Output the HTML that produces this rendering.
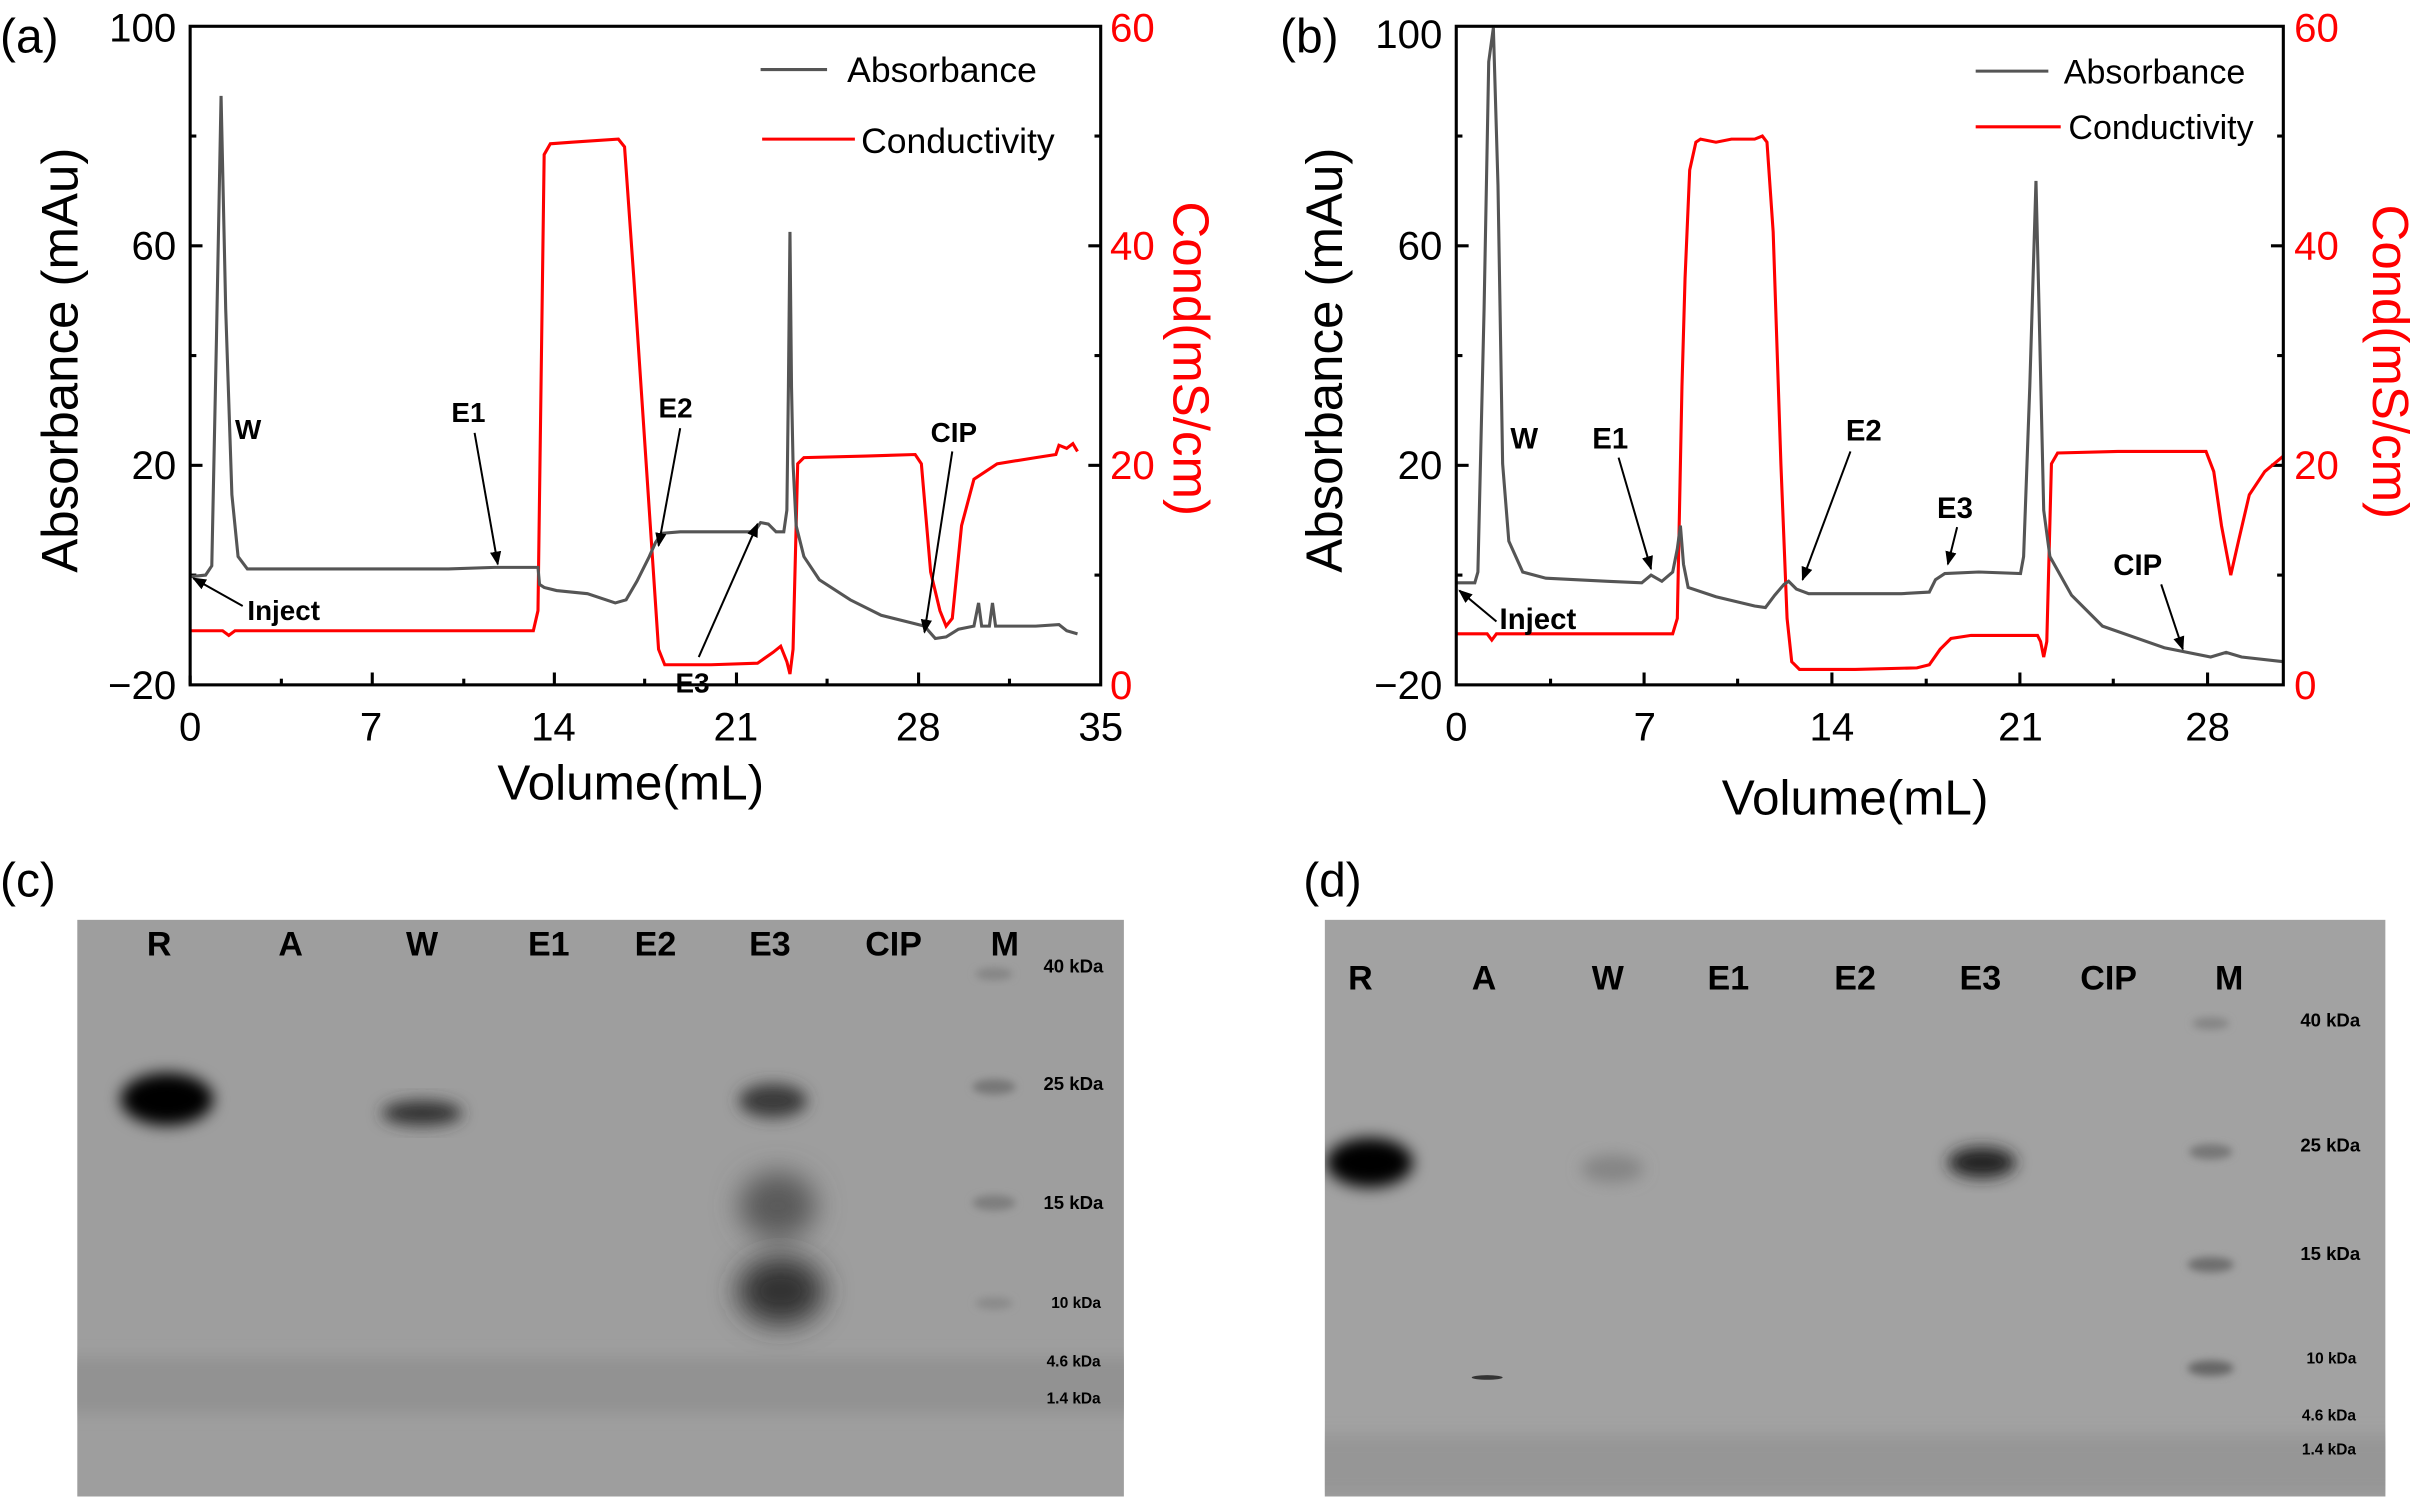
<!DOCTYPE html>
<html><head><style>
html,body{margin:0;padding:0;background:#fff;}
svg{display:block;}
text{font-family:"Liberation Sans",sans-serif;}
</style></head><body>
<svg width="2424" height="1505" viewBox="0 0 1568 973.5" preserveAspectRatio="none" xmlns="http://www.w3.org/2000/svg">
<defs>
<filter id="b4" x="-50%" y="-50%" width="200%" height="200%"><feGaussianBlur stdDeviation="5"/></filter>
<filter id="b8" x="-50%" y="-50%" width="200%" height="200%"><feGaussianBlur stdDeviation="9"/></filter>
<filter id="b2" x="-50%" y="-50%" width="200%" height="200%"><feGaussianBlur stdDeviation="2.5"/></filter>
<clipPath id="gc"><rect x="50" y="595" width="677" height="373"/></clipPath>
<clipPath id="gd"><rect x="857" y="595" width="686" height="373"/></clipPath>
<marker id="ar" viewBox="0 0 10 10" refX="9" refY="5" markerWidth="7" markerHeight="7" orient="auto"><path d="M0,1 L10,5 L0,9 z" fill="#000"/></marker>
</defs>

<!-- ===== Panel (a) ===== -->
<text x="0" y="34" font-size="31">(a)</text>
<g font-size="26" text-anchor="end">
<text x="114" y="27">100</text><text x="114" y="168">60</text><text x="114" y="310">20</text><text x="114" y="452">−20</text>
</g>
<g font-size="26" fill="#f00">
<text x="718" y="27">60</text><text x="718" y="168">40</text><text x="718" y="310">20</text><text x="718" y="452">0</text>
</g>
<g font-size="26" text-anchor="middle">
<text x="123" y="479">0</text><text x="240" y="479">7</text><text x="358" y="479">14</text><text x="476" y="479">21</text><text x="594" y="479">28</text><text x="712" y="479">35</text>
</g>
<text x="408" y="517" font-size="32" text-anchor="middle">Volume(mL)</text>
<text transform="translate(50,233) rotate(-90)" font-size="33" text-anchor="middle">Absorbance (mAu)</text>
<text transform="translate(759,232) rotate(90)" font-size="33" text-anchor="middle" fill="#f00">Cond(mS/cm)</text>
<g stroke="#000" stroke-width="2">
<line x1="123" y1="443" x2="123" y2="437"/><line x1="240.8" y1="443" x2="240.8" y2="435"/><line x1="358.6" y1="443" x2="358.6" y2="435"/><line x1="476.4" y1="443" x2="476.4" y2="435"/><line x1="594.2" y1="443" x2="594.2" y2="435"/>
<line x1="182" y1="443" x2="182" y2="439"/><line x1="300" y1="443" x2="300" y2="439"/><line x1="417" y1="443" x2="417" y2="439"/><line x1="535" y1="443" x2="535" y2="439"/><line x1="653" y1="443" x2="653" y2="439"/>
<line x1="123" y1="159" x2="131" y2="159"/><line x1="123" y1="301" x2="131" y2="301"/><line x1="123" y1="88" x2="127" y2="88"/><line x1="123" y1="230" x2="127" y2="230"/><line x1="123" y1="372" x2="127" y2="372"/>
<line x1="712" y1="159" x2="704" y2="159"/><line x1="712" y1="301" x2="704" y2="301"/><line x1="712" y1="88" x2="708" y2="88"/><line x1="712" y1="230" x2="708" y2="230"/><line x1="712" y1="372" x2="708" y2="372"/>
</g>
<polyline fill="none" stroke="#f00" stroke-width="2" points="123,408 144,408 148,411 152,408 345,408 348,395 352,100 356,93 370,92 400,90 404,95 410,180 420,330 426,420 430,430 460,430 490,429 500,422 505,418 509,428 511,436 513,420 516,300 520,296 560,295 592,294 596,300 602,370 608,395 612,405 616,400 622,340 630,310 645,300 670,296 683,294 685,288 690,290 694,287 697,292"/>
<polyline fill="none" stroke="#555" stroke-width="2" points="123,373 133,372 137,366 140,220 143,62 146,200 150,320 154,360 160,368 200,368 290,368 320,367 348,367 349,378 352,380 360,382 380,384 398,390 405,388 412,376 420,360 424,351 428,345 440,344 488,344 492,338 497,339 502,344 507,344 509,330 510,250 511,150 512,250 513,300 515,340 520,360 530,375 550,388 570,398 590,403 598,405 605,413 612,412 620,407 630,405 633,390 635,405 640,405 642,390 644,405 670,405 685,404 690,408 697,410"/>
<rect x="123" y="17" width="589" height="426" fill="none" stroke="#000" stroke-width="2"/>
<line x1="492" y1="45" x2="535" y2="45" stroke="#555" stroke-width="2"/><text x="548" y="53" font-size="23">Absorbance</text>
<line x1="493" y1="90" x2="553" y2="90" stroke="#f00" stroke-width="2"/><text x="557" y="99" font-size="23">Conductivity</text>
<g font-size="18" font-weight="bold">
<text x="152" y="284">W</text><text x="292" y="273">E1</text><text x="426" y="270">E2</text><text x="160" y="401">Inject</text><text x="437" y="448">E3</text><text x="602" y="286">CIP</text>
</g>
<g stroke="#000" stroke-width="1.3" marker-end="url(#ar)">
<line x1="307" y1="280" x2="322" y2="365"/><line x1="440" y1="277" x2="426" y2="353"/><line x1="157" y1="392" x2="125" y2="374"/><line x1="452" y1="425" x2="490" y2="339"/><line x1="616" y1="292" x2="598" y2="409"/>
</g>

<!-- ===== Panel (b) ===== -->
<text x="828" y="34" font-size="31">(b)</text>
<g font-size="26" text-anchor="end">
<text x="933" y="31">100</text><text x="933" y="168">60</text><text x="933" y="310">20</text><text x="933" y="452">−20</text>
</g>
<g font-size="26" fill="#f00">
<text x="1484" y="27">60</text><text x="1484" y="168">40</text><text x="1484" y="310">20</text><text x="1484" y="452">0</text>
</g>
<g font-size="26" text-anchor="middle">
<text x="942" y="479">0</text><text x="1064" y="479">7</text><text x="1185" y="479">14</text><text x="1307" y="479">21</text><text x="1428" y="479">28</text>
</g>
<text x="1200" y="527" font-size="32" text-anchor="middle">Volume(mL)</text>
<text transform="translate(868,233) rotate(-90)" font-size="33" text-anchor="middle">Absorbance (mAu)</text>
<text transform="translate(1535,234) rotate(90)" font-size="33" text-anchor="middle" fill="#f00">Cond(mS/cm)</text>
<g stroke="#000" stroke-width="2">
<line x1="1063.5" y1="443" x2="1063.5" y2="435"/><line x1="1185" y1="443" x2="1185" y2="435"/><line x1="1306.6" y1="443" x2="1306.6" y2="435"/><line x1="1428" y1="443" x2="1428" y2="435"/>
<line x1="1003" y1="443" x2="1003" y2="439"/><line x1="1124" y1="443" x2="1124" y2="439"/><line x1="1246" y1="443" x2="1246" y2="439"/><line x1="1367" y1="443" x2="1367" y2="439"/>
<line x1="942" y1="159" x2="950" y2="159"/><line x1="942" y1="301" x2="950" y2="301"/><line x1="942" y1="88" x2="946" y2="88"/><line x1="942" y1="230" x2="946" y2="230"/><line x1="942" y1="372" x2="946" y2="372"/>
<line x1="1477" y1="159" x2="1469" y2="159"/><line x1="1477" y1="301" x2="1469" y2="301"/><line x1="1477" y1="88" x2="1473" y2="88"/><line x1="1477" y1="230" x2="1473" y2="230"/><line x1="1477" y1="372" x2="1473" y2="372"/>
</g>
<polyline fill="none" stroke="#f00" stroke-width="2" points="942,410 962,410 965,414 968,410 1082,410 1085,400 1088,250 1090,180 1093,110 1097,92 1100,90 1110,92 1120,90 1135,90 1140,88 1143,92 1147,150 1152,300 1156,400 1159,428 1164,433 1200,433 1240,432 1248,430 1255,420 1262,413 1275,411 1318,411 1320,415 1322,425 1324,415 1327,300 1331,293 1370,292 1427,292 1432,305 1437,340 1443,372 1448,350 1455,320 1465,305 1477,295"/>
<polyline fill="none" stroke="#555" stroke-width="2" points="942,377 954,377 956,370 960,200 963,40 966,18 969,120 972,300 976,350 985,370 1000,374 1040,376 1062,377 1068,372 1075,376 1082,370 1085,355 1087,340 1089,365 1092,380 1110,386 1135,392 1142,393 1148,385 1154,378 1157,376 1162,381 1170,384 1200,384 1230,384 1248,383 1252,375 1258,371 1280,370 1307,371 1309,360 1313,250 1317,117 1319,200 1322,330 1326,360 1340,385 1360,405 1400,419 1430,425 1440,422 1450,425 1477,428"/>
<rect x="942" y="17" width="535" height="426" fill="none" stroke="#000" stroke-width="2"/>
<line x1="1278" y1="46" x2="1325" y2="46" stroke="#555" stroke-width="2"/><text x="1335" y="54" font-size="22">Absorbance</text>
<line x1="1278" y1="82" x2="1333" y2="82" stroke="#f00" stroke-width="2"/><text x="1338" y="90" font-size="22">Conductivity</text>
<g font-size="19" font-weight="bold">
<text x="977" y="290">W</text><text x="1030" y="290">E1</text><text x="1194" y="285">E2</text><text x="1253" y="335">E3</text><text x="1367" y="372">CIP</text><text x="970" y="407">Inject</text>
</g>
<g stroke="#000" stroke-width="1.3" marker-end="url(#ar)">
<line x1="1047" y1="296" x2="1068" y2="368"/><line x1="1197" y1="292" x2="1166" y2="375"/><line x1="1266" y1="341" x2="1260" y2="365"/><line x1="1398" y1="378" x2="1412" y2="420"/><line x1="968" y1="402" x2="944" y2="382"/>
</g>

<!-- ===== Panel (c) gel ===== -->
<text x="0" y="580" font-size="31">(c)</text>
<rect x="50" y="595" width="677" height="373" fill="#9e9e9e"/>
<g clip-path="url(#gc)">
<rect x="40" y="878" width="700" height="36" fill="#929292" filter="url(#b4)"/>
<ellipse cx="108" cy="711" rx="30" ry="17" fill="#000" filter="url(#b4)"/>
<ellipse cx="273" cy="720" rx="26" ry="8" fill="#333" filter="url(#b4)"/>
<ellipse cx="500" cy="712" rx="22" ry="11" fill="#3a3a3a" filter="url(#b4)"/>
<ellipse cx="503" cy="780" rx="25" ry="22" fill="#5a5a5a" filter="url(#b8)"/>
<ellipse cx="505" cy="835" rx="28" ry="22" fill="#333" filter="url(#b8)"/>
<ellipse cx="643" cy="630" rx="12" ry="4" fill="#858585" filter="url(#b2)"/>
<ellipse cx="643" cy="703" rx="14" ry="5" fill="#777" filter="url(#b2)"/>
<ellipse cx="643" cy="778" rx="14" ry="5" fill="#7e7e7e" filter="url(#b2)"/>
<ellipse cx="643" cy="843" rx="12" ry="4" fill="#8a8a8a" filter="url(#b2)"/>
</g>
<g font-size="22" font-weight="bold" text-anchor="middle" font-family="Liberation Mono">
<text x="103" y="618">R</text><text x="188" y="618">A</text><text x="273" y="618">W</text><text x="355" y="618">E1</text><text x="424" y="618">E2</text><text x="498" y="618">E3</text><text x="578" y="618">CIP</text><text x="650" y="618">M</text>
</g>
<g font-size="12" font-weight="bold">
<text x="675" y="629">40 kDa</text><text x="675" y="705">25 kDa</text><text x="675" y="782">15 kDa</text><text x="680" y="846" font-size="10">10 kDa</text><text x="677" y="884" font-size="10">4.6 kDa</text><text x="677" y="908" font-size="10">1.4 kDa</text>
</g>

<!-- ===== Panel (d) gel ===== -->
<text x="843" y="580" font-size="31">(d)</text>
<rect x="857" y="595" width="686" height="373" fill="#a2a2a2"/>
<g clip-path="url(#gd)">
<rect x="845" y="928" width="710" height="40" fill="#969696" filter="url(#b4)"/>
<ellipse cx="886" cy="752" rx="28" ry="16" fill="#000" filter="url(#b4)"/>
<ellipse cx="1043" cy="756" rx="20" ry="9" fill="#858585" filter="url(#b4)"/>
<ellipse cx="1282" cy="752" rx="22" ry="10" fill="#222" filter="url(#b4)"/>
<ellipse cx="1430" cy="662" rx="12" ry="4" fill="#858585" filter="url(#b2)"/>
<ellipse cx="1430" cy="745" rx="14" ry="5" fill="#777" filter="url(#b2)"/>
<ellipse cx="1430" cy="818" rx="15" ry="5" fill="#6e6e6e" filter="url(#b2)"/>
<ellipse cx="1430" cy="885" rx="15" ry="5" fill="#666" filter="url(#b2)"/>
<ellipse cx="962" cy="891" rx="10" ry="1.5" fill="#333"/>
</g>
<g font-size="22" font-weight="bold" text-anchor="middle" font-family="Liberation Mono">
<text x="880" y="640">R</text><text x="960" y="640">A</text><text x="1040" y="640">W</text><text x="1118" y="640">E1</text><text x="1200" y="640">E2</text><text x="1281" y="640">E3</text><text x="1364" y="640">CIP</text><text x="1442" y="640">M</text>
</g>
<g font-size="12" font-weight="bold">
<text x="1488" y="664">40 kDa</text><text x="1488" y="745">25 kDa</text><text x="1488" y="815">15 kDa</text><text x="1492" y="882" font-size="10">10 kDa</text><text x="1489" y="919" font-size="10">4.6 kDa</text><text x="1489" y="941" font-size="10">1.4 kDa</text>
</g>
</svg>
</body></html>
